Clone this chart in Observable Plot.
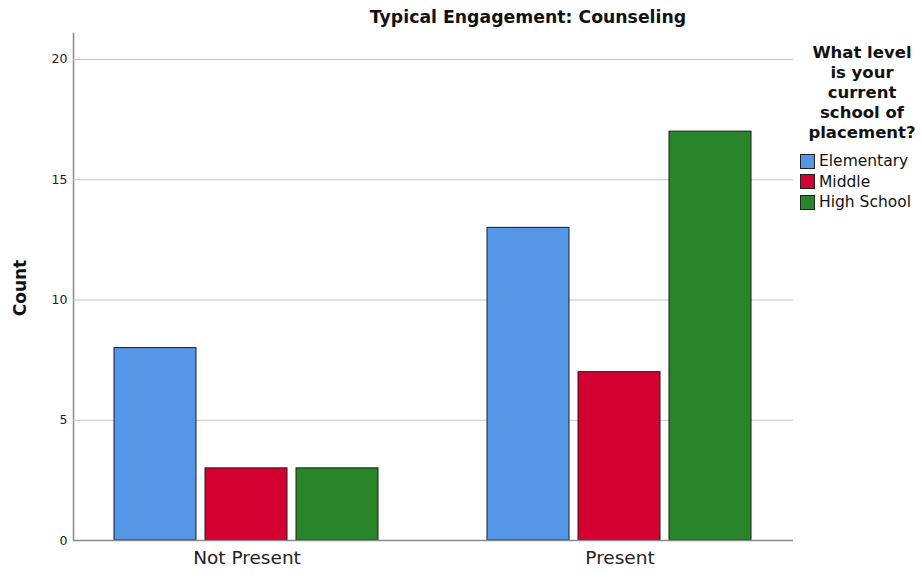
<!DOCTYPE html>
<html>
<head>
<meta charset="utf-8">
<script src="https://cdn.jsdelivr.net/npm/d3@7"></script>
<script src="https://cdn.jsdelivr.net/npm/@observablehq/plot@0.6"></script>
<style>
  html, body { margin: 0; padding: 0; background: #fff; }
  body { width: 922px; height: 581px; overflow: hidden; font-family: "DejaVu Sans", Verdana, sans-serif; }
  #wrap { position: relative; width: 922px; height: 581px; }
  #title { position: absolute; top: 7px; left: 327px; width: 402px; text-align: center; font-weight: bold; font-size: 17.3px; color: #111; }
  #ylab { position: absolute; left: 20px; top: 288px; transform: translate(-50%, -50%) rotate(-90deg); font-weight: bold; font-size: 17px; color: #111; white-space: nowrap; }
  #legend { position: absolute; left: 797px; top: 43px; width: 125px; color: #111; }
  #legend .lt { width: 112px; margin-left: 9px; text-align: center; font-weight: bold; font-size: 16.5px; line-height: 20px; margin-bottom: 8px; }
  #legend .item { display: flex; align-items: center; font-size: 15.5px; height: 20.5px; white-space: nowrap; }
  #legend .sw { width: 13px; height: 13px; border: 1px solid #222; margin-right: 4px; margin-left: 3px; flex: none; }
  #chart { position: absolute; left: 0; top: 0; }
</style>
</head>
<body>
<div id="wrap">
  <div id="chart"></div>
  <div id="title">Typical Engagement: Counseling</div>
  <div id="ylab">Count</div>
  <div id="legend"></div>
</div>
<script>
const categories = ["Not Present", "Present"];
const levels = ["Elementary", "Middle", "High School"];
const colors = ["#5596e6", "#d50032", "#28852a"];
const elementary = [8, 13];
const middle = [3, 7];
const highSchool = [3, 17];
const yTicks = [0, 5, 10, 15, 20];
const legendTitle = "What level is your current school of placement?";

const series = [elementary, middle, highSchool];
const data = [];
categories.forEach((c, i) => levels.forEach((l, j) => data.push({category: c, level: l, count: series[j][i]})));

// grid rows per facet: the first facet's rules bridge the gap to the second
const gridRows = [];
categories.forEach(c => yTicks.forEach(y => gridRows.push({category: c, y})));
const gap = 26;

const chart = Plot.plot({
  width: 922,
  height: 581,
  marginLeft: 73,
  marginRight: 129,
  marginTop: 33,
  marginBottom: 41,
  style: { fontFamily: "DejaVu Sans, Verdana, sans-serif", background: "#fff" },
  fx: { domain: categories, paddingInner: 0.07, paddingOuter: 0, axis: "bottom", label: null, tickSize: 0, tickPadding: 10 },
  x: { domain: levels, paddingInner: 0.095, paddingOuter: 0.44, axis: null },
  y: { domain: [0, 21.08], ticks: yTicks, tickSize: 0, tickPadding: 6, label: null, line: true },
  color: { domain: levels, range: colors },
  marks: [
    Plot.ruleY(gridRows.filter(d => d.y > 0 && d.category === categories[0]), { fx: "category", y: "y", stroke: "#c4c4c4", strokeWidth: 1.2, insetRight: -gap }),
    Plot.ruleY(gridRows.filter(d => d.y > 0 && d.category === categories[1]), { fx: "category", y: "y", stroke: "#c4c4c4", strokeWidth: 1.2 }),
    Plot.barY(data, { fx: "category", x: "level", y: "count", fill: "level", stroke: "#1c1c1c", strokeWidth: 1 }),
    Plot.ruleY(gridRows.filter(d => d.y === 0 && d.category === categories[0]), { fx: "category", y: "y", stroke: "#8a8a8a", strokeWidth: 1.5, insetRight: -gap }),
    Plot.ruleY(gridRows.filter(d => d.y === 0 && d.category === categories[1]), { fx: "category", y: "y", stroke: "#8a8a8a", strokeWidth: 1.5 })
  ]
});
document.getElementById("chart").appendChild(chart);

// style axis text and axis line
const s = d3.select(chart);
s.selectAll("g[aria-label='y-axis tick label']").attr("font-size", 12.5).attr("fill", "#222");
s.selectAll("g[aria-label='fx-axis tick label']").attr("font-size", 18.5).attr("fill", "#222");
s.selectAll("[aria-label='frame'], [aria-label='frame'] *").attr("stroke", "#8a8a8a").attr("stroke-width", 1.5);

const lg = document.getElementById("legend");
const t = document.createElement("div");
t.className = "lt";
t.textContent = legendTitle;
lg.appendChild(t);
levels.forEach((l, i) => {
  const it = document.createElement("div");
  it.className = "item";
  const sw = document.createElement("div");
  sw.className = "sw";
  sw.style.background = colors[i];
  const tx = document.createElement("span");
  tx.textContent = l;
  it.appendChild(sw);
  it.appendChild(tx);
  lg.appendChild(it);
});
</script>
</body>
</html>
